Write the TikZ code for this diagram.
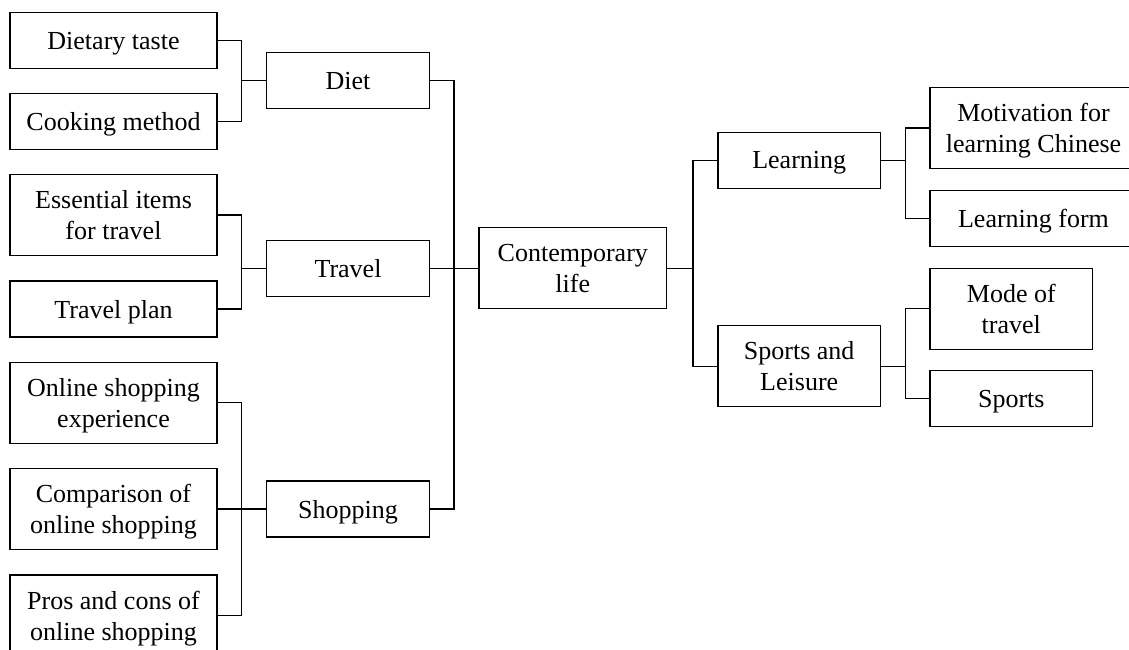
\documentclass[tikz,border=0pt]{standalone}
\usepackage{fontspec}
\setmainfont{Liberation Serif}
\begin{document}
\begin{tikzpicture}[x=1pt,y=-1pt,
  box/.style={draw, line width=1.3pt, inner sep=0pt, align=center,
    font=\fontsize{26}{31}\selectfont, text depth=0pt},
  wide/.style={box, minimum width=207pt},
  mid/.style={box, minimum width=162.5pt},
  one/.style={minimum height=56pt},
  two/.style={minimum height=81pt},
  link/.style={line width=1.3pt}]
\useasboundingbox (0,0) rectangle (1129,650);
\clip (0,0) rectangle (1129,650);
\fill[white] (0,0) rectangle (1129,650);
% bus coordinates
\coordinate (b1) at (241.7,0);
\coordinate (b2) at (454,0);
\coordinate (b3) at (693,0);
\coordinate (b4) at (905.3,0);
% left column
\node[wide,one] (dt) at (113.5,40.5) {Dietary taste};
\node[wide,one] (cm) at (113.5,121.7) {Cooking method};
\node[wide,two] (ei) at (113.5,215) {Essential items\\for travel};
\node[wide,one] (tp) at (113.5,309) {Travel plan};
\node[wide,two] (os) at (113.5,402.8) {Online shopping\\experience};
\node[wide,two] (co) at (113.5,509) {Comparison of\\online shopping};
\node[wide,two] (pc) at (113.5,615.5) {Pros and cons of\\online shopping};
% second column
\node[mid,one] (diet) at (348,80.8) {Diet};
\node[mid,one] (travel) at (348,268.3) {Travel};
\node[mid,one] (shop) at (348,509) {Shopping};
% centre
\node[box,two,minimum width=187.7pt] (cl) at (572.8,268.3) {Contemporary\\life};
% right
\node[mid,one] (learn) at (799.2,160.3) {Learning};
\node[mid,two] (sl) at (799.2,366.3) {Sports and\\Leisure};
\node[wide,two] (mot) at (1033.5,128) {Motivation for\\learning Chinese};
\node[wide,one] (lf) at (1033.5,218.3) {Learning form};
\node[mid,two] (mode) at (1011.3,308.7) {Mode of\\travel};
\node[mid,one] (sports) at (1011.3,398.7) {Sports};
% connectors left
\draw[link] (dt.east) -- (dt.east -| b1) |- (cm.east);
\draw[link] (diet.west) -- (diet.west -| b1);
\draw[link] (ei.east) -- (ei.east -| b1) |- (tp.east);
\draw[link] (travel.west) -- (travel.west -| b1);
\draw[link] (os.east) -- (os.east -| b1) |- (pc.east);
\draw[link] (co.east) -- (shop.west);
% main bus
\draw[link] (diet.east) -- (diet.east -| b2) |- (shop.east);
\draw[link] (travel.east) -- (cl.west);
% right bus
\draw[link] (cl.east) -- (cl.east -| b3);
\draw[link] (learn.west) -- (learn.west -| b3) |- (sl.west);
% sub buses
\draw[link] (mot.west) -- (mot.west -| b4) |- (lf.west);
\draw[link] (learn.east) -- (learn.east -| b4);
\draw[link] (mode.west) -- (mode.west -| b4) |- (sports.west);
\draw[link] (sl.east) -- (sl.east -| b4);
\end{tikzpicture}
\end{document}
